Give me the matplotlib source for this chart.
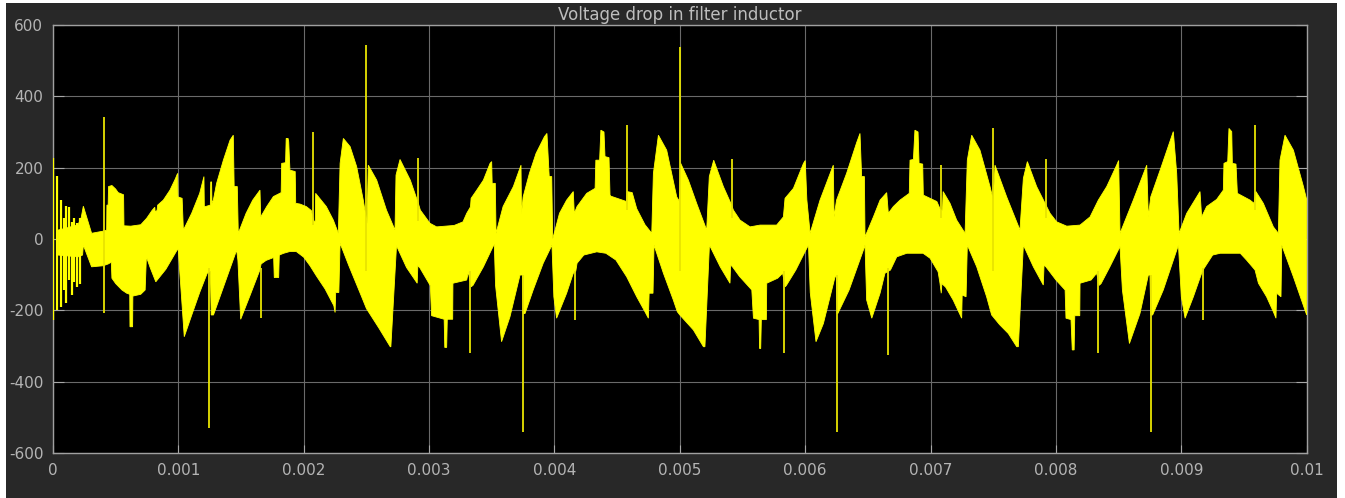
import numpy as np
import matplotlib
matplotlib.use("Agg")
import matplotlib.pyplot as plt
from matplotlib.patches import Rectangle

title = "Voltage drop in filter inductor"
x_ticks = [0, 0.001, 0.002, 0.003, 0.004, 0.005, 0.006, 0.007, 0.008, 0.009, 0.01]
x_tick_labels = ["0", "0.001", "0.002", "0.003", "0.004", "0.005",
                 "0.006", "0.007", "0.008", "0.009", "0.01"]
y_ticks = [-600, -400, -200, 0, 200, 400, 600]
y_tick_labels = ["-600", "-400", "-200", "0", "200", "400", "600"]

# upper envelope of the switching band: (time in ms, volts)
upper_env = [
    (0.04, 25), (0.10, 30), (0.20, 40), (0.225, 60), (0.242, 92), (0.308, 16), (0.40, 22),
    (0.428, 25), (0.43, 95), (0.44, 95), (0.443, 147), (0.47, 150), (0.50, 140), (0.52, 130),
    (0.563, 124), (0.566, 37), (0.62, 36), (0.70, 40), (0.747, 58), (0.79, 80), (0.812, 89),
    (0.815, 76), (0.83, 80), (0.835, 95), (0.88, 109), (0.933, 137), (0.975, 168), (0.994, 184),
    (0.997, 118), (1.03, 114), (1.04, 25), (1.106, 72), (1.17, 128), (1.204, 175), (1.207, 90),
    (1.255, 95), (1.258, 160), (1.265, 160), (1.268, 100), (1.279, 109), (1.305, 156),
    (1.359, 221), (1.412, 277), (1.438, 291), (1.445, 147), (1.47, 147), (1.478, 16),
    (1.54, 72), (1.593, 109), (1.651, 137), (1.657, 62), (1.705, 91), (1.758, 119), (1.82, 130),
    (1.824, 212), (1.855, 214), (1.86, 282), (1.875, 282), (1.88, 273), (1.89, 193),
    (1.932, 189), (1.936, 100), (1.97, 98), (2.02, 91), (2.06, 80), (2.08, 50), (2.092, 50),
    (2.095, 128), (2.18, 91), (2.236, 53), (2.276, 16), (2.29, 212), (2.316, 282), (2.37, 259),
    (2.422, 203), (2.475, 109), (2.505, 44), (2.515, 207), (2.582, 165), (2.66, 81),
    (2.728, 25), (2.736, 179), (2.768, 223), (2.85, 165), (2.914, 100), (2.93, 81),
    (3.007, 44), (3.06, 34), (3.20, 38), (3.27, 48), (3.30, 72), (3.33, 90), (3.335, 114),
    (3.38, 137), (3.433, 165), (3.486, 212), (3.499, 217), (3.503, 156), (3.528, 156),
    (3.534, 16), (3.59, 91), (3.672, 147), (3.733, 207), (3.737, 70), (3.75, 118), (3.80, 184),
    (3.853, 240), (3.92, 287), (3.94, 296), (3.958, 175), (3.978, 175), (3.986, 0), (4.04, 72),
    (4.097, 109), (4.15, 133), (4.158, 72), (4.18, 91), (4.257, 128), (4.324, 142), (4.33, 221),
    (4.36, 221), (4.37, 305), (4.395, 300), (4.403, 231), (4.435, 228), (4.443, 123),
    (4.45, 120), (4.575, 105), (4.58, 133), (4.62, 130), (4.656, 85), (4.722, 40), (4.776, 16),
    (4.789, 184), (4.829, 291), (4.895, 249), (4.975, 118), (4.998, 105), (5.007, 212),
    (5.068, 165), (5.134, 100), (5.214, 25), (5.235, 175), (5.27, 221), (5.347, 147),
    (5.413, 95), (5.427, 81), (5.48, 53), (5.56, 34), (5.64, 39), (5.772, 39), (5.826, 62),
    (5.839, 114), (5.906, 142), (5.986, 212), (6.0, 220), (6.013, 110), (6.039, 16),
    (6.118, 109), (6.224, 207), (6.23, 62), (6.25, 109), (6.33, 184), (6.41, 270),
    (6.437, 296), (6.45, 175), (6.472, 175), (6.477, 6), (6.544, 62), (6.597, 109),
    (6.65, 130), (6.663, 72), (6.703, 91), (6.756, 109), (6.83, 128), (6.836, 221),
    (6.863, 223), (6.875, 305), (6.9, 300), (6.908, 212), (6.937, 210), (6.942, 123),
    (7.05, 105), (7.08, 81), (7.095, 81), (7.10, 133), (7.155, 100), (7.208, 53), (7.275, 16),
    (7.293, 221), (7.328, 291), (7.394, 249), (7.474, 147), (7.50, 110), (7.514, 207),
    (7.607, 118), (7.713, 25), (7.74, 170), (7.772, 217), (7.846, 147), (7.913, 100),
    (7.953, 72), (8.006, 48), (8.086, 36), (8.192, 39), (8.272, 62), (8.338, 109),
    (8.405, 147), (8.484, 207), (8.50, 220), (8.511, 16), (8.617, 109), (8.724, 207),
    (8.737, 62), (8.756, 118), (8.831, 193), (8.936, 301), (8.963, 184), (8.982, 16),
    (9.043, 72), (9.149, 133), (9.162, 62), (9.202, 91), (9.282, 111), (9.335, 137),
    (9.34, 212), (9.37, 217), (9.38, 310), (9.402, 301), (9.407, 212), (9.436, 210),
    (9.447, 128), (9.548, 109), (9.58, 100), (9.595, 133), (9.654, 100), (9.734, 34),
    (9.774, 16), (9.787, 221), (9.827, 291), (9.894, 249), (9.974, 147), (10.0, 110),
]

# lower envelope of the switching band: (time in ms, volts)
lower_env = [
    (0.04, -45), (0.20, -50), (0.236, -45), (0.242, -17), (0.308, -78), (0.40, -75),
    (0.44, -70), (0.465, -65), (0.47, -110), (0.50, -125), (0.55, -143), (0.588, -152),
    (0.612, -155), (0.614, -246), (0.635, -246), (0.637, -160), (0.70, -155), (0.735, -143),
    (0.745, -50), (0.775, -80), (0.82, -120), (0.90, -85), (0.95, -55), (0.99, -31),
    (1.0, -30), (1.005, -60), (1.047, -274), (1.10, -220), (1.17, -150), (1.23, -96),
    (1.255, -90), (1.262, -213), (1.28, -213), (1.465, -31), (1.475, -60), (1.497, -225),
    (1.57, -160), (1.65, -87), (1.66, -70), (1.70, -60), (1.76, -52), (1.765, -108),
    (1.80, -108), (1.805, -45), (1.84, -40), (1.89, -35), (1.94, -35), (2.0, -51),
    (2.05, -75), (2.10, -103), (2.17, -140), (2.24, -187), (2.25, -206), (2.255, -150),
    (2.28, -150), (2.29, -12), (2.36, -75), (2.462, -162), (2.50, -195), (2.60, -250),
    (2.69, -302), (2.695, -302), (2.74, -19), (2.82, -80), (2.905, -124), (2.91, -75),
    (2.925, -80), (3.01, -131), (3.02, -215), (3.12, -225), (3.125, -304), (3.14, -304),
    (3.145, -225), (3.188, -225), (3.19, -124), (3.30, -115), (3.313, -92), (3.335, -134),
    (3.35, -130), (3.433, -78), (3.51, -21), (3.52, -15), (3.53, -130), (3.578, -288),
    (3.645, -218), (3.725, -101), (3.745, -101), (3.75, -209), (3.765, -209), (3.83, -143),
    (3.91, -68), (3.98, -17), (3.995, -162), (4.017, -222), (4.097, -152), (4.15, -96),
    (4.17, -90), (4.18, -68), (4.234, -45), (4.337, -36), (4.41, -40), (4.49, -59),
    (4.576, -106), (4.656, -162), (4.722, -204), (4.749, -222), (4.755, -152), (4.786, -152),
    (4.794, -17), (4.869, -96), (4.948, -171), (4.98, -204), (5.0, -213), (5.108, -255),
    (5.188, -302), (5.20, -302), (5.236, -17), (5.322, -78), (5.40, -124), (5.405, -73),
    (5.42, -78), (5.476, -105), (5.574, -143), (5.587, -222), (5.632, -226), (5.636, -307),
    (5.645, -307), (5.65, -226), (5.69, -226), (5.693, -124), (5.78, -110), (5.82, -96),
    (5.84, -134), (5.85, -130), (5.925, -87), (6.005, -31), (6.026, -17), (6.04, -150),
    (6.086, -288), (6.145, -237), (6.238, -106), (6.248, -106), (6.255, -209), (6.26, -209),
    (6.35, -143), (6.464, -31), (6.477, -17), (6.49, -171), (6.531, -222), (6.597, -152),
    (6.636, -96), (6.68, -87), (6.73, -50), (6.81, -40), (6.94, -40), (6.996, -54),
    (7.06, -92), (7.075, -124), (7.085, -152), (7.09, -125), (7.12, -135), (7.18, -171),
    (7.248, -222), (7.252, -157), (7.283, -162), (7.293, -17), (7.368, -78), (7.447, -162),
    (7.487, -213), (7.55, -240), (7.62, -265), (7.687, -302), (7.70, -302), (7.74, -17),
    (7.82, -78), (7.899, -129), (7.905, -73), (7.92, -78), (8.0, -115), (8.073, -143),
    (8.08, -222), (8.12, -226), (8.13, -311), (8.145, -311), (8.15, -215), (8.19, -215),
    (8.192, -124), (8.28, -115), (8.325, -96), (8.345, -130), (8.36, -125), (8.43, -78),
    (8.511, -21), (8.53, -143), (8.586, -293), (8.67, -209), (8.737, -101), (8.75, -101),
    (8.756, -213), (8.771, -213), (8.856, -143), (8.977, -17), (9.0, -162), (9.03, -222),
    (9.096, -162), (9.162, -96), (9.182, -82), (9.25, -45), (9.31, -40), (9.47, -40),
    (9.52, -59), (9.588, -87), (9.615, -124), (9.68, -162), (9.734, -204), (9.755, -222),
    (9.76, -152), (9.795, -162), (9.801, -17), (9.894, -106), (10.0, -213),
]

# start-up ringing lines: time (ms), bottom, top
ring_t_ms = [0.0, 0.03, 0.065, 0.09, 0.10, 0.125, 0.15, 0.17, 0.194, 0.215]
ring_lo = [-228, -199, -190, -143, -180, -115, -157, -120, -134, -125]
ring_hi = [226, 177, 108, 60, 92, 90, 49, 60, 44, 60]

# isolated switching spikes: time (ms), bottom, top
spike_t_ms = [0.41, 1.247, 1.66, 2.077, 2.494, 2.914, 3.33, 3.747, 4.164, 4.576, 4.998,
              5.419, 5.833, 6.251, 6.663, 7.083, 7.501, 7.918, 8.338, 8.756, 9.17, 9.588]
spike_lo = [-208, -531, -222, 40, -90, 50, -321, -540, -227, 80, -90,
            60, -321, -540, -325, 60, -90, 60, -321, -540, -227, 80]
spike_hi = [343, -80, -80, 301, 544, 226, -90, -100, -90, 320, 539,
            223, -90, -100, -80, 207, 310, 223, -90, -100, -80, 320]

W, H = 1345, 498
fig = plt.figure(figsize=(W / 100, H / 100), dpi=100)
fig.patch.set_facecolor("white")
fig.patches.append(Rectangle((6 / W, 0), (1337 - 6) / W, (H - 3) / H,
                             transform=fig.transFigure, facecolor="#282828",
                             edgecolor="none", zorder=-10))

ax = fig.add_axes([53 / W, 1 - 453 / H, (1306.7 - 53) / W, 428 / H])
ax.set_facecolor("black")

ut = np.array([p[0] for p in upper_env]) * 1e-3
uv = np.array([p[1] for p in upper_env], dtype=float)
lt = np.array([p[0] for p in lower_env]) * 1e-3
lv = np.array([p[1] for p in lower_env], dtype=float)

yellow = "#ffff00"
ax.fill(np.concatenate([ut, lt[::-1]]), np.concatenate([uv, lv[::-1]]),
        facecolor=yellow, edgecolor=yellow, lw=0.6, zorder=3)
ax.vlines(np.array(ring_t_ms) * 1e-3, ring_lo, ring_hi, color=yellow, lw=1.6, zorder=4)
ax.vlines(np.array(spike_t_ms) * 1e-3, spike_lo, spike_hi, color="#e8e400", lw=1.3, zorder=4)

ax.set_xlim(0, 0.01)
ax.set_ylim(-600, 600)
ax.set_xticks(x_ticks)
ax.set_xticklabels(x_tick_labels)
ax.set_yticks(y_ticks)
ax.set_yticklabels(y_tick_labels)
ax.grid(True, color="#6a6a6a", lw=0.8)
ax.set_axisbelow(True)
ax.tick_params(axis="both", direction="in", colors="#a8a8a8", labelcolor="#b4b4b4",
               labelsize=11, pad=7)
ax.tick_params(axis="y", length=8, right=True)
ax.tick_params(axis="x", length=6)
for s in ax.spines.values():
    s.set_color("#a0a0a0")
    s.set_linewidth(1.0)

fig.text((53 + 1306.7) / 2 / W, 1 - 15 / H, title, ha="center", va="center",
         color="#bdbdbd", fontsize=12)

fig.savefig("out.png", dpi=100, facecolor=fig.get_facecolor())
